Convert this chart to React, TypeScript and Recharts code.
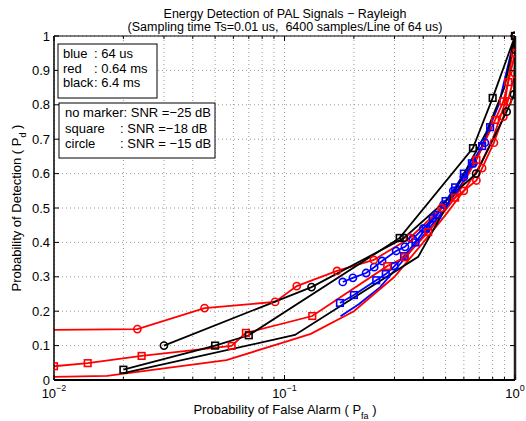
import { LineChart, Line, XAxis, YAxis, CartesianGrid, ReferenceLine } from 'recharts';

// axis ticks
const xTicks = [
  0.01, 0.02, 0.03, 0.04, 0.05, 0.06, 0.07, 0.08, 0.09,
  0.1, 0.2, 0.3, 0.4, 0.5, 0.6, 0.7, 0.8, 0.9, 1,
];
const yTicks = [0, 0.1, 0.2, 0.3, 0.4, 0.5, 0.6, 0.7, 0.8, 0.9, 1];
const yTickLabels = ['0', '0.1', '0.2', '0.3', '0.4', '0.5', '0.6', '0.7', '0.8', '0.9', '1'];
const decadeExp: Record<string, string> = { '0.01': '−2', '0.1': '−1', '1': '0' };

// [Pfa, Pd] pairs
// blue : 64 us
const blueNone = [[0.175, 0.185], [0.21, 0.22], [0.26, 0.27], [0.32, 0.34], [0.4, 0.42], [0.5, 0.5], [0.6, 0.58], [0.7, 0.66], [0.85, 0.8], [1, 1]];
const blueSquare = [[0.174, 0.224], [0.2, 0.247], [0.25, 0.29], [0.275, 0.308], [0.3, 0.331], [0.33, 0.36], [0.37, 0.4], [0.41, 0.44], [0.46, 0.48], [0.5, 0.52], [0.55, 0.56], [0.6, 0.6], [0.65, 0.63], [0.72, 0.68], [0.78, 0.735]];
const blueCircle = [[0.179, 0.285], [0.198, 0.297], [0.226, 0.311], [0.245, 0.328], [0.265, 0.346], [0.305, 0.375], [0.333, 0.387], [0.36, 0.41], [0.4, 0.44], [0.44, 0.47], [0.49, 0.51], [0.54, 0.55], [0.6, 0.59], [0.66, 0.63], [0.74, 0.69]];
// red : 0.64 ms
const redNone = [[0.01, 0.009], [0.017, 0.012], [0.056, 0.058], [0.1, 0.11], [0.13, 0.134], [0.2, 0.2], [0.3, 0.3], [0.4, 0.4], [0.5, 0.48], [0.6, 0.55], [0.7, 0.62], [0.8, 0.7], [0.9, 0.8], [1, 1]];
const redSquare = [[0.01, 0.04], [0.014, 0.049], [0.024, 0.07], [0.059, 0.099], [0.068, 0.137], [0.132, 0.186], [0.279, 0.331], [0.333, 0.357], [0.42, 0.43], [0.55, 0.53], [0.68, 0.64], [0.82, 0.756], [0.89, 0.81], [0.935, 0.866], [1, 0.95], [1, 1]];
const redCircle = [[0.008, 0.145], [0.023, 0.148], [0.045, 0.209], [0.091, 0.227], [0.113, 0.273], [0.169, 0.317], [0.244, 0.349], [0.35, 0.413], [0.48, 0.5], [0.6, 0.55], [0.68, 0.58], [0.72, 0.616], [0.81, 0.69], [0.89, 0.765], [0.93, 0.81], [1, 0.89], [1, 0.95], [1, 1]];
// black : 6.4 ms
const blackNone = [[0.02, 0.02], [0.111, 0.131], [0.38, 0.358], [0.5, 0.5], [0.75, 0.72], [0.9, 0.85], [1, 1]];
const blackSquare = [[0.02, 0.03], [0.05, 0.1], [0.07, 0.13], [0.316, 0.413], [0.657, 0.674], [0.8, 0.82], [1, 1]];
const blackCircle = [[0.03, 0.1], [0.131, 0.27], [0.33, 0.413], [0.678, 0.6], [0.92, 0.78], [0.99, 0.83], [1, 0.96], [1, 1]];

const PLOT_W = 461;
const PLOT_H = 344;
const FONT = '"Liberation Sans", Arial, sans-serif';

const toRows = (pts: number[][]) => pts.map(([x, y]) => ({ x, y }));

const XTick = (props: any) => {
  const { x, y, payload } = props;
  const exp = decadeExp[String(payload.value)];
  const len = exp ? 5 : 3;
  return (
    <g>
      <line x1={x} y1={y} x2={x} y2={y - len} stroke="#000" />
      <line x1={x} y1={y - PLOT_H} x2={x} y2={y - PLOT_H + len} stroke="#000" />
      {exp && (
        <text x={x} y={y + 18} textAnchor="middle" fontSize={13} fontFamily={FONT} fill="#000">
          10<tspan dy={-7} fontSize={9}>{exp}</tspan>
        </text>
      )}
    </g>
  );
};

const YTick = (props: any) => {
  const { x, y, index } = props;
  return (
    <g>
      <line x1={x} y1={y} x2={x + 5} y2={y} stroke="#000" />
      <line x1={x + PLOT_W} y1={y} x2={x + PLOT_W - 5} y2={y} stroke="#000" />
      <text x={x - 4} y={y + 4.5} textAnchor="end" fontSize={13} fontFamily={FONT} fill="#000">
        {yTickLabels[index]}
      </text>
    </g>
  );
};

const squareDot = (color: string) => (p: any) => (
  <rect key={p.index} x={p.cx - 3.3} y={p.cy - 3.3} width={6.6} height={6.6} fill="none" stroke={color} strokeWidth={1.6} />
);
const circleDot = (color: string) => (p: any) => (
  <circle key={p.index} cx={p.cx} cy={p.cy} r={3.6} fill="none" stroke={color} strokeWidth={1.6} />
);

const series = [
  { name: 'blueNone', data: blueNone, color: '#0000ff', marker: 'none' },
  { name: 'blueSquare', data: blueSquare, color: '#0000ff', marker: 'square' },
  { name: 'blueCircle', data: blueCircle, color: '#0000ff', marker: 'circle' },
  { name: 'redNone', data: redNone, color: '#ff0000', marker: 'none' },
  { name: 'redSquare', data: redSquare, color: '#ff0000', marker: 'square' },
  { name: 'redCircle', data: redCircle, color: '#ff0000', marker: 'circle' },
  { name: 'blackNone', data: blackNone, color: '#000000', marker: 'none' },
  { name: 'blackSquare', data: blackSquare, color: '#000000', marker: 'square' },
  { name: 'blackCircle', data: blackCircle, color: '#000000', marker: 'circle' },
];

const App = () => {
  return (
    <div style={{ position: 'absolute', left: 0, top: 0, width: 526, height: 421, background: '#fff' }}>
      <LineChart width={526} height={421} margin={{ top: 36, right: 11, bottom: 0, left: 0 }}>
        <CartesianGrid stroke="#999" strokeDasharray="1 3" />
        <XAxis
          dataKey="x"
          type="number"
          scale="log"
          domain={[0.01, 1]}
          ticks={xTicks}
          interval={0}
          allowDataOverflow
          height={41}
          tickSize={0}
          tickMargin={0}
          tick={<XTick />}
          axisLine={{ stroke: '#000', strokeWidth: 2 }}
        />
        <YAxis
          dataKey="y"
          type="number"
          domain={[0, 1]}
          ticks={yTicks}
          interval={0}
          width={54}
          tickSize={0}
          tickMargin={0}
          tick={<YTick />}
          axisLine={{ stroke: '#000', strokeWidth: 1.5 }}
        />
        <ReferenceLine x={1} stroke="#222" strokeWidth={2.5} />
        <ReferenceLine y={1} stroke="#000" strokeWidth={1.2} />
        {series.map(s => (
          <Line
            key={s.name}
            data={toRows(s.data)}
            dataKey="y"
            stroke={s.color}
            strokeWidth={1.8}
            isAnimationActive={false}
            dot={s.marker === 'square' ? squareDot(s.color) : s.marker === 'circle' ? circleDot(s.color) : false}
            activeDot={false}
          />
        ))}
      </LineChart>
      <svg width={526} height={421} style={{ position: 'absolute', left: 0, top: 0, pointerEvents: 'none' }} fontFamily={FONT} fontSize={13}>
        <text x={285} y={18} textAnchor="middle" fontSize={12.5}>Energy Detection of PAL Signals − Rayleigh</text>
        <text x={285} y={31} textAnchor="middle" fontSize={12.5} xmlSpace="preserve">(Sampling time Ts=0.01 us,  6400 samples/Line of 64 us)</text>
        <text x={285} y={414} textAnchor="middle">
          Probability of False Alarm ( P<tspan dy={5} fontSize={9}>fa</tspan><tspan dy={-5}> )</tspan>
        </text>
        <text transform="translate(21,208) rotate(-90)" textAnchor="middle">
          Probability of Detection ( P<tspan dy={5} fontSize={9}>d</tspan><tspan dy={-5}> )</tspan>
        </text>
        <rect x={58} y={44} width={99} height={54} fill="#fff" stroke="#000" />
        <text x={63} y={58}>blue</text>
        <text x={94} y={58}>: 64 us</text>
        <text x={63} y={73}>red</text>
        <text x={94} y={73}>: 0.64 ms</text>
        <text x={63} y={87}>black</text>
        <text x={94} y={87}>: 6.4 ms</text>
        <rect x={59} y={103} width={156} height={55} fill="#fff" stroke="#000" />
        <text x={65} y={117}>no marker: SNR =−25 dB</text>
        <text x={65} y={133}>square</text>
        <text x={120} y={133}>: SNR =−18 dB</text>
        <text x={65} y={148}>circle</text>
        <text x={120} y={148}>: SNR = −15 dB</text>
      </svg>
    </div>
  );
};

export default App;
